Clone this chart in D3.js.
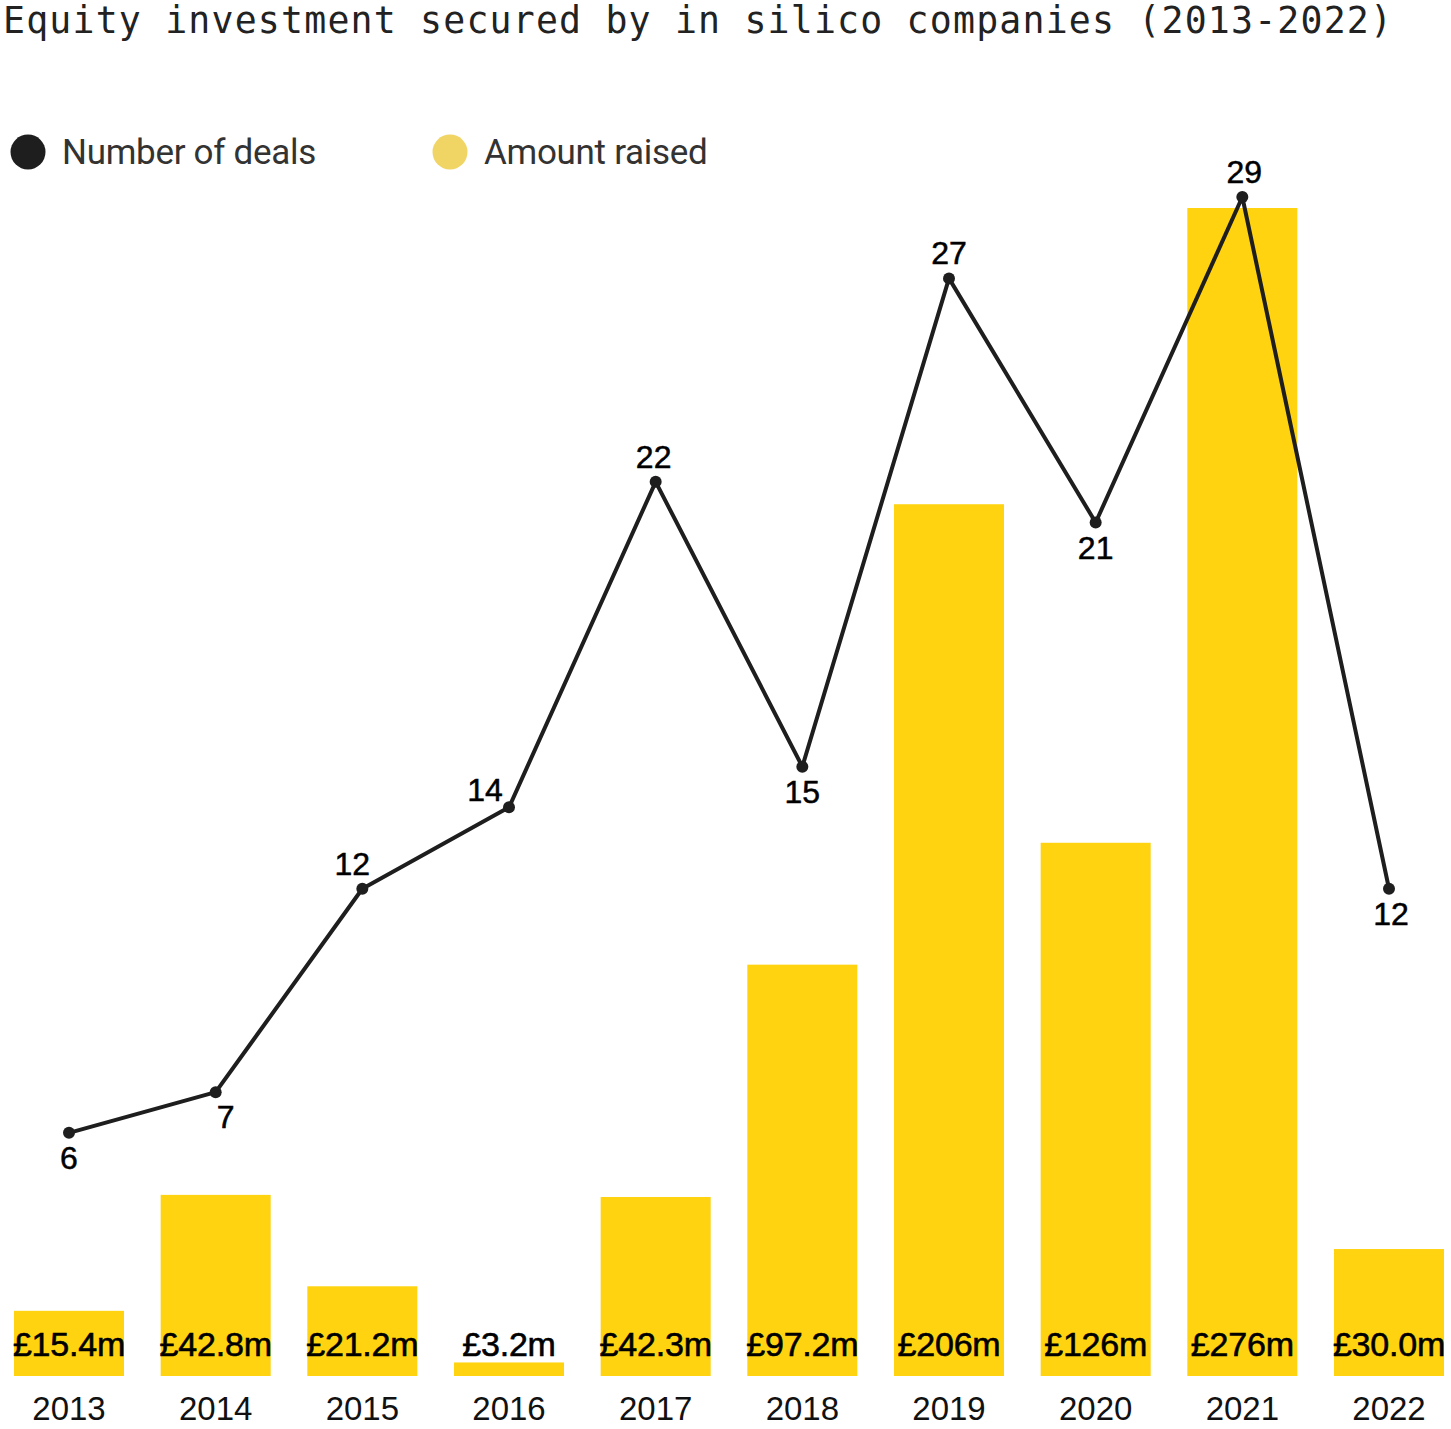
<!DOCTYPE html>
<html>

<head>
    <meta charset="utf-8">
    <title>Equity investment</title>
    <script src="https://d3js.org/d3.v7.min.js" charset="utf-8"></script>
    <style>
        body { margin: 0; background: #fff; }
    </style>
</head>

<body>

    <div class="box"></div>

    <script type="text/javascript">
        var years = ["2013", "2014", "2015", "2016", "2017", "2018", "2019", "2020", "2021", "2022"];
        var amounts = [15.4, 42.8, 21.2, 3.2, 42.3, 97.2, 206, 126, 276, 30.0];
        var amountLabels = ["£15.4m", "£42.8m", "£21.2m", "£3.2m", "£42.3m", "£97.2m", "£206m", "£126m", "£276m", "£30.0m"];
        var deals = [6, 7, 12, 14, 22, 15, 27, 21, 29, 12];

        // where each deal label sits relative to its point
        var labelSide = ["below", "below", "above", "left", "above", "below", "above", "below", "above", "below"];
        var labelDx = [0, 10, -10, -24, -2, 0, 0, 0, 2, 2];

        var width = 1451;
        var height = 1429;
        var barColor = "#FFD30F";
        var lineColor = "#1e1e1e";

        var svg = d3.select("div.box").append("svg")
            .attr("width", width)
            .attr("height", height);

        var x = d3.scaleBand()
            .domain(years)
            .range([14, 1444])
            .paddingInner(0.25)
            .paddingOuter(0);

        var yBar = d3.scaleLinear()
            .domain([0, 276])
            .range([1376, 208]);

        var yLine = d3.scaleLinear()
            .domain([0, 29])
            .range([1377, 197]);

        // title
        svg.append("text")
            .attr("x", 3)
            .attr("y", 33)
            .attr("font-family", "'DejaVu Sans Mono', monospace")
            .attr("font-size", 36.5)
            .attr("textLength", 1389)
            .attr("lengthAdjust", "spacing")
            .attr("fill", "#222")
            .text("Equity investment secured by in silico companies (2013-2022)");

        // legend
        var legend = [
            { label: "Number of deals", color: "#1e1e1e", x: 28 },
            { label: "Amount raised", color: "#F0D464", x: 450 }
        ];
        var lg = svg.selectAll("g.legend")
            .data(legend)
            .enter()
            .append("g")
            .attr("class", "legend")
            .attr("transform", function(d) {
                return "translate(" + d.x + ",152)";
            });
        lg.append("circle")
            .attr("r", 17.5)
            .attr("fill", function(d) { return d.color; });
        lg.append("text")
            .attr("x", 34)
            .attr("y", 12)
            .attr("font-family", "Roboto, sans-serif")
            .attr("font-size", 35)
            .attr("letter-spacing", -0.3)
            .attr("fill", "#333")
            .text(function(d) { return d.label; });

        // bars
        svg.selectAll("rect.bar")
            .data(amounts)
            .enter()
            .append("rect")
            .attr("class", "bar")
            .attr("x", function(d, i) { return x(years[i]); })
            .attr("width", x.bandwidth())
            .attr("y", function(d) { return yBar(d); })
            .attr("height", function(d) { return yBar(0) - yBar(d); })
            .attr("fill", barColor);

        // amount labels
        svg.selectAll("text.amount")
            .data(amountLabels)
            .enter()
            .append("text")
            .attr("class", "amount")
            .attr("x", function(d, i) { return x(years[i]) + x.bandwidth() / 2; })
            .attr("y", 1356)
            .attr("text-anchor", "middle")
            .attr("font-family", "'Liberation Sans', Arial, sans-serif")
            .attr("font-size", 34)
            .attr("letter-spacing", -0.2)
            .attr("fill", "#000")
            .attr("stroke", "#000")
            .attr("stroke-width", 0.6)
            .text(function(d) { return d; });

        // x axis (labels only)
        var xAxis = svg.append("g")
            .attr("transform", "translate(0,1376)")
            .call(d3.axisBottom(x).tickSize(0).tickPadding(44));
        xAxis.select(".domain").remove();
        xAxis.selectAll("text")
            .attr("font-family", "'Liberation Sans', Arial, sans-serif")
            .attr("font-size", 33)
            .attr("fill", "#111")
            .attr("dy", 0);

        // line
        var line = d3.line()
            .x(function(d, i) { return x(years[i]) + x.bandwidth() / 2; })
            .y(function(d) { return yLine(d); });

        svg.append("path")
            .datum(deals)
            .attr("d", line)
            .attr("fill", "none")
            .attr("stroke", lineColor)
            .attr("stroke-width", 4)
            .attr("stroke-linejoin", "round");

        svg.selectAll("circle.pt")
            .data(deals)
            .enter()
            .append("circle")
            .attr("class", "pt")
            .attr("cx", function(d, i) { return x(years[i]) + x.bandwidth() / 2; })
            .attr("cy", function(d) { return yLine(d); })
            .attr("r", 6)
            .attr("fill", lineColor);

        svg.selectAll("text.deal")
            .data(deals)
            .enter()
            .append("text")
            .attr("class", "deal")
            .attr("x", function(d, i) { return x(years[i]) + x.bandwidth() / 2 + labelDx[i]; })
            .attr("y", function(d, i) {
                var side = labelSide[i];
                if (side === "below") return yLine(d) + 36;
                if (side === "left") return yLine(d) - 6;
                return yLine(d) - 14;
            })
            .attr("text-anchor", "middle")
            .attr("font-family", "'Liberation Sans', Arial, sans-serif")
            .attr("font-size", 32)
            .attr("fill", "#000")
            .attr("stroke", "#000")
            .attr("stroke-width", 0.5)
            .text(function(d) { return d; });
    </script>

</body>

</html>
